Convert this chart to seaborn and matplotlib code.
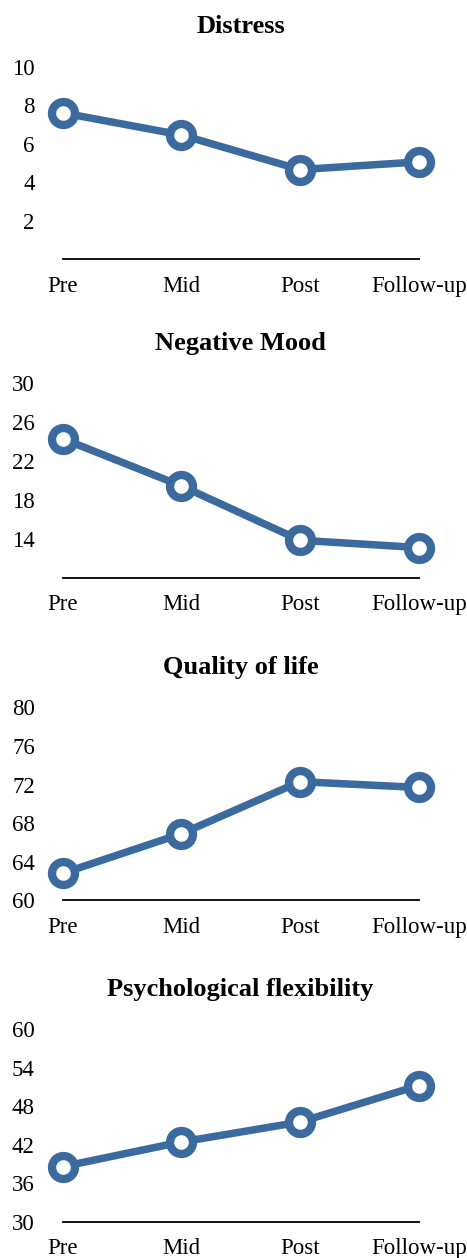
#!/usr/bin/env python

import matplotlib
matplotlib.use("Agg")
import matplotlib.pyplot as plt
import pandas as pd
import seaborn as sns

# 測定時点
timepoints = ["Pre", "Mid", "Post", "Follow-up"]

# 各指標の平均値
distress = [7.6, 6.45, 4.65, 5.05]
negative_mood = [24.3, 19.45, 13.85, 13.1]
quality_of_life = [62.8, 66.9, 72.3, 71.7]
psych_flexibility = [38.55, 42.4, 45.5, 51.2]

titles = ["Distress", "Negative Mood", "Quality of life", "Psychological flexibility"]
series = [distress, negative_mood, quality_of_life, psych_flexibility]
ylims = [(0, 10), (10, 30), (60, 80), (30, 60)]
yticks = [[2, 4, 6, 8, 10], [14, 18, 22, 26, 30],
          [60, 64, 68, 72, 76, 80], [30, 36, 42, 48, 54, 60]]

LINE_COLOR = "#3b6a9e"


def draw_panel(ax, title, values, ylim, ticks):
    df = pd.DataFrame({"x": range(len(timepoints)), "y": values})
    sns.lineplot(data=df, x="x", y="y", ax=ax, color=LINE_COLOR,
                 linewidth=5.4, marker="o", markersize=16.5,
                 markerfacecolor="white", markeredgecolor=LINE_COLOR,
                 markeredgewidth=6.0, clip_on=False, zorder=3)
    ax.set_xlim(0, len(timepoints) - 1)
    ax.set_ylim(*ylim)
    ax.set_xticks(range(len(timepoints)))
    ax.set_xticklabels(timepoints)
    ax.set_yticks(ticks)
    ax.set_xlabel("")
    ax.set_ylabel("")
    ax.set_title(title, fontsize=19, fontweight="bold", pad=24, color="black")
    ax.tick_params(axis="both", length=0, labelsize=16.5, labelcolor="black")
    ax.tick_params(axis="y", pad=20)
    ax.tick_params(axis="x", pad=12)
    for side in ["top", "right", "left"]:
        ax.spines[side].set_visible(False)
    ax.spines["bottom"].set_color("black")
    ax.spines["bottom"].set_linewidth(1.3)
    ax.grid(False)


def main():
    sns.set_style("white")
    # セリフ体フォント
    plt.rcParams["font.family"] = ["Liberation Serif", "DejaVu Serif"]
    plt.rcParams["text.color"] = "black"

    fig = plt.figure(figsize=(4.67, 12.58), dpi=100)

    # 余白設定 (left, bottom, width, height)
    positions = [
        [0.134, 0.7941, 0.7626, 0.1529],
        [0.134, 0.5408, 0.7626, 0.1545],
        [0.134, 0.2843, 0.7626, 0.1534],
        [0.134, 0.0290, 0.7626, 0.1530],
    ]

    for pos, title, values, ylim, ticks in zip(positions, titles, series, ylims, yticks):
        ax = fig.add_axes(pos)
        draw_panel(ax, title, values, ylim, ticks)

    fig.savefig("out.png", dpi=100)
    plt.close("all")


if __name__ == "__main__":
    main()
